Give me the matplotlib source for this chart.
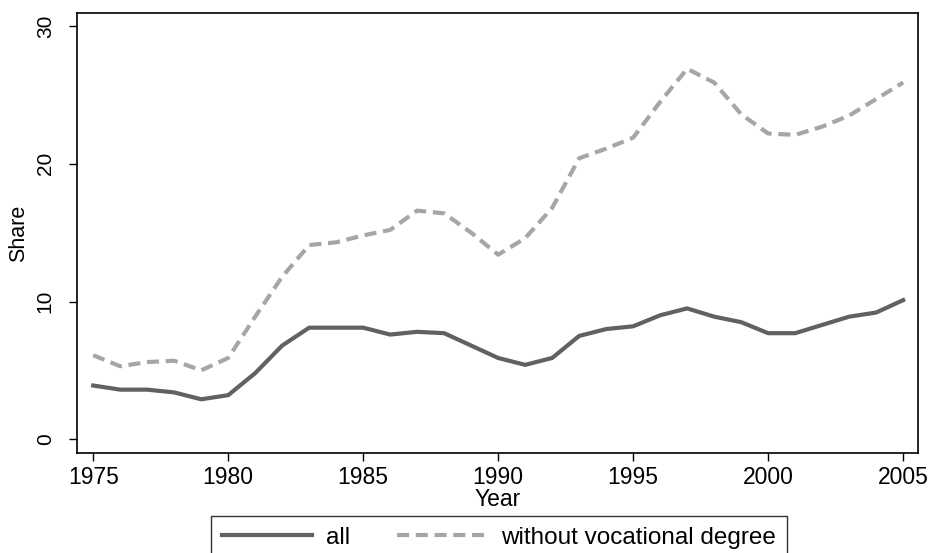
import matplotlib
matplotlib.use("Agg")
import matplotlib.pyplot as plt

plt.rcParams['font.family'] = ['Liberation Sans', 'DejaVu Sans']

years = list(range(1975, 2006))
share_all = [3.9, 3.6, 3.6, 3.4, 2.9, 3.2, 4.8, 6.8, 8.1, 8.1, 8.1, 7.6, 7.8, 7.7, 6.8, 5.9,
             5.4, 5.9, 7.5, 8.0, 8.2, 9.0, 9.5, 8.9, 8.5, 7.7, 7.7, 8.3, 8.9, 9.2, 10.1]
share_novoc = [6.1, 5.3, 5.6, 5.7, 5.0, 5.9, 8.9, 11.8, 14.1, 14.3, 14.8, 15.2, 16.6, 16.4, 15.0, 13.4,
               14.6, 16.8, 20.4, 21.1, 21.9, 24.5, 26.9, 25.9, 23.6, 22.2, 22.1, 22.7, 23.5, 24.7, 25.9]
xticks = [1975, 1980, 1985, 1990, 1995, 2000, 2005]
yticks = [0, 10, 20, 30]

fig = plt.figure(figsize=(9.29, 5.53), dpi=100)
ax = fig.add_axes([77 / 929, 100 / 553, 841 / 929, 440 / 553])

ax.plot(years, share_all, color='#616161', lw=3.0, label='all')
ax.plot(years, share_novoc, color='#a6a6a6', lw=3.0, ls=(0, (2.9, 1.6)),
        label='without vocational degree')

ax.set_xlim(1974.4, 2005.55)
ax.set_ylim(-1.0, 30.95)
ax.set_xticks(xticks)
ax.set_yticks(yticks)
ax.tick_params(direction='out', length=6, width=1, color='black')
ax.tick_params(axis='x', labelsize=16.5, pad=3)
ax.tick_params(axis='y', labelsize=15, pad=10)
for lab in ax.get_yticklabels():
    lab.set_rotation(90)
    lab.set_va('center')
for s in ax.spines.values():
    s.set_linewidth(1.2)

ax.set_xlabel('Year', fontsize=16.5, labelpad=0)
ax.set_ylabel('Share', fontsize=15.5, labelpad=5)

leg = fig.legend(loc='upper left', bbox_to_anchor=(211 / 929, 37 / 553), ncol=2,
                 frameon=True, fancybox=False, edgecolor='black', fontsize=17.5,
                 handlelength=3.7, handletextpad=0.6, columnspacing=1.9,
                 borderpad=0.45, borderaxespad=0)
leg.get_frame().set_linewidth(1.0)

fig.savefig('out.png', dpi=100)
